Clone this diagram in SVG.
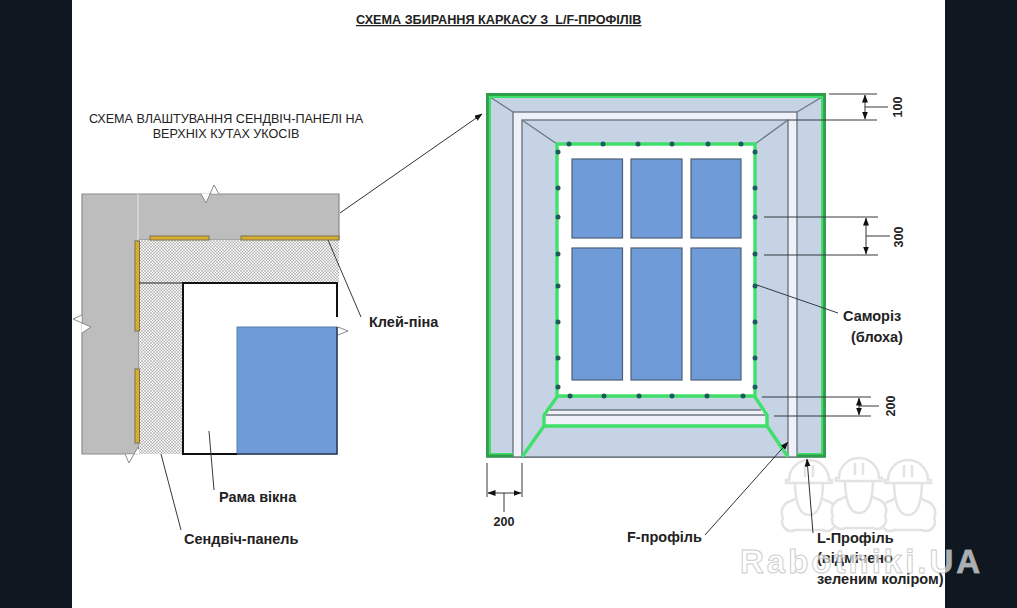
<svg xmlns="http://www.w3.org/2000/svg" width="1017" height="608" viewBox="0 0 1017 608">
<style>
text{font-family:"Liberation Sans",Arial,sans-serif;fill:#222}
.b{font-weight:bold;font-size:14.500px}
.d{font-weight:bold;font-size:12.500px;text-anchor:middle}
.t{fill:#c5d3e4;stroke:#6f7780;stroke-width:1.400}
.w{fill:#eef2f8;stroke:#6f7780;stroke-width:1.400}
.p{fill:#6f9bd8;stroke:#4d5f78;stroke-width:1.200}
.g{fill:none;stroke:#3fe06a;stroke-width:3.400;stroke-linejoin:round}
.y{fill:#d9ac2e;stroke:#7b7350;stroke-width:1}
.l{fill:none;stroke:#333a40;stroke-width:1}
.e{fill:none;stroke:#6f7780;stroke-width:1.300}
.a{fill:none;stroke:#2c3135;stroke-width:1;marker-end:url(#ah)}
.m{fill:none;stroke:#2c3135;stroke-width:1;marker-start:url(#ahs);marker-end:url(#ah)}
.wm{fill:#fff;stroke:#e3e3e3;stroke-width:2.500}
.bf{fill:#fff}
.bs{fill:none;stroke:#8a8a8a;stroke-width:1}
</style>
<defs>
<marker id="ah" markerWidth="8" markerHeight="6" refX="7.500" refY="3" orient="auto" markerUnits="userSpaceOnUse"><path d="M0 0L8 3L0 6Z" fill="#111"/></marker>
<marker id="ahs" markerWidth="8" markerHeight="6" refX=".5" refY="3" orient="auto" markerUnits="userSpaceOnUse"><path d="M8 0L0 3L8 6Z" fill="#111"/></marker>
<pattern id="dots" width="3" height="3" patternUnits="userSpaceOnUse"><rect width="3" height="3" fill="#f4f4f4"/><circle cx="1" cy="1" r=".65" fill="#7d7d7d"/><circle cx="2.500" cy="2.500" r=".55" fill="#999"/></pattern>
<g id="worker"><path d="M-14 65a9 9 0 0 1 -12-12a12 12 0 0 1 8-17l6-3h24l6 3a12 12 0 0 1 8 17a9 9 0 0 1 -12 12Z"/><path d="M-14 15c0 30 8 35 14 35s14-5 14-35Z"/><path d="M-20 15a20 20 0 0 1 40 0h3v3h-46v-3Z"/><path d="M-4 0V12M4 0V12" style="fill:none"/></g>
</defs>
<rect width="1017" height="608" fill="#0f1820"/>
<rect x="72" width="873" height="608" fill="#fff"/>
<text id="title" x="356" y="24" font-size="12.650" font-weight="bold" text-decoration="underline" xml:space="preserve">СХЕМА ЗБИРАННЯ КАРКАСУ З  L/F-ПРОФІЛІВ</text>
<g id="subtitle"><text x="226" y="123" text-anchor="middle" font-size="12.600">СХЕМА ВЛАШТУВАННЯ СЕНДВІЧ-ПАНЕЛІ НА</text><text x="226" y="138" text-anchor="middle" font-size="12.600">ВЕРХНІХ КУТАХ УКОСІВ</text></g>
<g id="watermark"><g class="wm"><use href="#worker" x="809" y="465"/><use href="#worker" x="908" y="465"/><use href="#worker" x="859" y="463"/></g></g>
<g id="wall"><path d="M82 194H339V240H139V454H82Z" fill="#bdbdbd" stroke="#8a8a8a" stroke-width="1.200"/><path d="M138 194V240" stroke="#e8e8e8" stroke-width="1"/>
<path class="bf" d="M201 193.500L206 203L214 185L219 193.500Z"/><path class="bs" d="M201 194L206 203L214 185L219 194"/>
<path class="bf" d="M81.500 315L73 319L91 327L81.500 333Z"/><path class="bs" d="M82 315L73 319L91 327L82 333"/>
<path class="bf" d="M125 454.500L129 463L138 447L141 454.500Z"/><path class="bs" d="M125 454L129 463L138 447L141 454"/></g>
<g id="sandwich-panel"><path d="M139 240H339V283H182V454H139Z" fill="url(#dots)"/></g>
<g id="glue"><rect class="y" x="150" y="236" width="59" height="4"/><rect class="y" x="241" y="236" width="98" height="4"/><rect class="y" x="135" y="241" width="4.500" height="90"/><rect class="y" x="135" y="369" width="4.500" height="74"/></g>
<g id="window-frame"><path d="M182 454V283H337V454Z" fill="#fff"/><rect x="237" y="327" width="100" height="127" fill="#6f9bd8" stroke="#5a7fa8"/><path d="M139 283H182" fill="none" stroke="#222" stroke-width="1.200"/><path d="M337 317V283H183V454H237" fill="none" stroke="#111" stroke-width="2"/><path d="M237 454H337V327" fill="none" stroke="#2b3c58" stroke-width="1.500"/><path class="bf" d="M338 327L348 331L338 335Z"/><path class="bs" d="M338 327L348 331L338 335"/></g>
<g id="opening">
<rect class="t" x="487" y="94" width="338" height="363"/>
<rect class="w" x="513" y="112" width="284" height="345"/>
<rect class="t" x="522" y="120" width="266" height="337"/>
<path class="e" d="M490 97L513 112M822 97L797 112M522 120L557 144M788 120L755 144"/>
<rect x="557" y="144" width="198" height="252" fill="#fff"/>
<rect x="544" y="410" width="223" height="16" fill="#eef2f8"/>
<path class="e" d="M550 410H761M546 415H765"/>
</g>
<g id="panes"><rect class="p" x="572" y="159" width="50.500" height="79"/><rect class="p" x="631" y="159" width="51" height="79"/><rect class="p" x="691" y="159" width="50" height="79"/><rect class="p" x="572" y="248" width="50.500" height="132"/><rect class="p" x="631" y="248" width="51" height="132"/><rect class="p" x="691" y="248" width="50" height="132"/></g>
<g id="l-profile"><path d="M513 454H490V97H822V454H797" fill="none" stroke="#3fe06a" stroke-width="2"/><path d="M513 456H487.500V94.500H824.500V456H797" fill="none" stroke="#2f9e4a" stroke-width="2.800"/></g>
<g id="f-profile"><rect class="g" x="557" y="144" width="198" height="252"/><path class="g" d="M557 397L544 415V426L522 457M755 397L767 415V426L788 457M544 426H767"/></g>
<g id="screws" fill="#1f5a5c">
<circle cx="569" cy="144" r="2.500"/><circle cx="603" cy="144" r="2.500"/><circle cx="638" cy="144" r="2.500"/><circle cx="672" cy="144" r="2.500"/><circle cx="708" cy="144" r="2.500"/><circle cx="741" cy="144" r="2.500"/>
<circle cx="558" cy="152" r="2.500"/><circle cx="558" cy="188" r="2.500"/><circle cx="558" cy="217" r="2.500"/><circle cx="558" cy="254" r="2.500"/><circle cx="558" cy="286" r="2.500"/><circle cx="558" cy="322" r="2.500"/><circle cx="558" cy="358" r="2.500"/><circle cx="558" cy="387" r="2.500"/>
<circle cx="755" cy="152" r="2.500"/><circle cx="755" cy="188" r="2.500"/><circle cx="755" cy="217" r="2.500"/><circle cx="755" cy="254" r="2.500"/><circle cx="755" cy="286" r="2.500"/><circle cx="755" cy="322" r="2.500"/><circle cx="755" cy="358" r="2.500"/><circle cx="755" cy="387" r="2.500"/>
<circle cx="570" cy="396" r="2.500"/><circle cx="604" cy="396" r="2.500"/><circle cx="639" cy="396" r="2.500"/><circle cx="672" cy="396" r="2.500"/><circle cx="707" cy="396" r="2.500"/><circle cx="743" cy="396" r="2.500"/>
</g>
<g id="connectors">
<path class="a" d="M340 213L482 114"/>
<path class="l" d="M328 240L361 317M209 431L214 490M161 454L181 530M757 285L838 313"/>
<path class="a" d="M705 535L788 442"/>
<path class="a" d="M813 533L807 459"/>
<path class="l" d="M829 94H877M788 120H877M764 217H878M764 255H878M762 397H871M774 416H871M487 463V497M522 463V497M504 493V512M865 107H888M866 236H890M859 406H879"/>
<path class="m" d="M865 95V119"/><path class="m" d="M866 218V254"/><path class="m" d="M859 398V415"/><path class="m" d="M488 493H521"/>
</g>
<g id="labels">
<text class="b" x="369" y="327">Клей-піна</text>
<text class="b" x="219" y="502">Рама вікна</text>
<text class="b" x="184" y="544">Сендвіч-панель</text>
<text class="b" x="627" y="542">F-профіль</text>
<text class="b" x="843" y="321">Саморіз</text><text class="b" x="851" y="342">(блоха)</text>
<text class="b" x="817" y="543">L-Профіль</text><text class="b" x="817" y="563">(відмічено</text><text class="b" x="817" y="584">зеленим коліром)</text>
<text class="d" x="504" y="526">200</text>
<text class="d" transform="translate(902 107) rotate(-90)">100</text>
<text class="d" transform="translate(903 237) rotate(-90)">300</text>
<text class="d" transform="translate(895 406) rotate(-90)">200</text>
</g>
<text id="watermark-text" x="740" y="573" font-size="33" font-weight="bold" letter-spacing="3" style="fill:#fff;fill-opacity:.68;stroke:#b5b5b5;stroke-opacity:.7;stroke-width:1">Rabotniki.UA</text>
</svg>
